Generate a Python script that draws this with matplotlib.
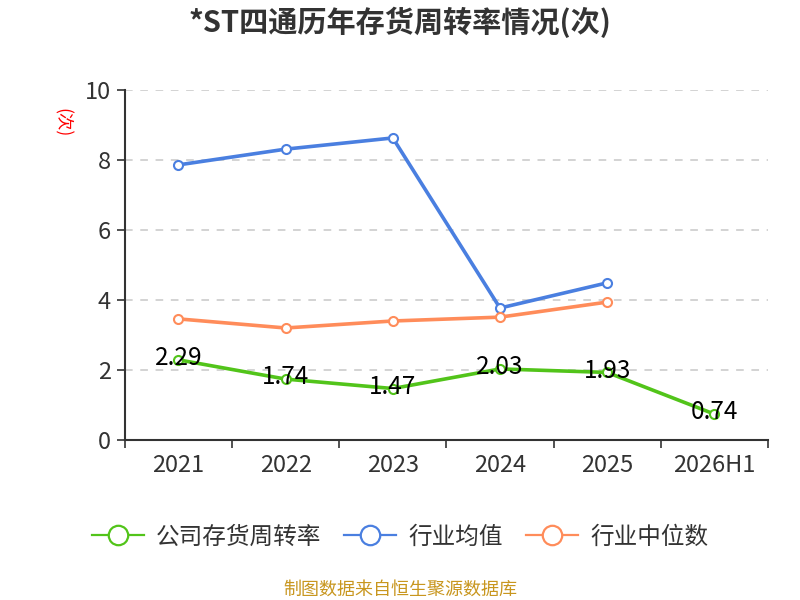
import numpy as np
import matplotlib.pyplot as plt
from matplotlib.lines import Line2D

plt.rcParams["font.family"] = ["Noto Sans CJK SC", "DejaVu Sans"]

years = ["2021", "2022", "2023", "2024", "2025", "2026H1"]
company = [2.29, 1.74, 1.47, 2.03, 1.93, 0.74]
ind_mean = [7.86, 8.31, 8.63, 3.77, 4.49]
ind_median = [3.46, 3.20, 3.40, 3.51, 3.94]
names = ["公司存货周转率", "行业均值", "行业中位数"]

green = "#52c41a"
blue = "#4a7fe0"
orange = "#ff8c5a"

fig = plt.figure(figsize=(8, 6), dpi=100)
ax = fig.add_axes([0.156, 0.2667, 0.804, 0.5833])

x = np.arange(len(years))
lw = 2.6
mk = dict(marker="o", markersize=6.5, markerfacecolor="white", markeredgewidth=1.5)
ax.plot(x[:len(ind_mean)], ind_mean, color=blue, lw=lw, markeredgecolor=blue, **mk, zorder=3)
ax.plot(x[:len(ind_median)], ind_median, color=orange, lw=lw, markeredgecolor=orange, **mk, zorder=3)
ax.plot(x, company, color=green, lw=lw, markeredgecolor=green, **mk, zorder=3)

for xi, v in zip(x, company):
    ax.text(xi, v + 0.05, f"{v:.2f}", ha="center", va="center", fontsize=17.5, color="black", zorder=4)

ax.set_xlim(-0.5, len(years) - 0.5)
ax.set_ylim(0, 10)
ax.set_yticks([0, 2, 4, 6, 8, 10])
ax.set_xticks(x)
ax.set_xticklabels(years)
ax.set_xticks(np.arange(-0.5, len(years)), minor=True)
ax.tick_params(axis="x", which="major", length=0, pad=10, labelsize=17, labelcolor="#333333")
ax.tick_params(axis="x", which="minor", length=6, width=1.2, color="#333333")
ax.tick_params(axis="y", length=6, width=1.2, color="#333333", labelsize=17, labelcolor="#333333", pad=4)
ax.grid(axis="y", linestyle=(0, (5, 5)), color="#c8c8c8", lw=1.1)
ax.set_axisbelow(True)
for s in ["top", "right"]:
    ax.spines[s].set_visible(False)
for s in ["left", "bottom"]:
    ax.spines[s].set_color("#333333")
    ax.spines[s].set_linewidth(1.5)

fig.text(0.078, 0.795, "(次)", color="red", fontsize=12.5, rotation=-90, ha="center", va="center")
fig.text(0.5, 0.962, "*ST四通历年存货周转率情况(次)", ha="center", va="center",
         fontsize=21, fontweight="bold", color="#333333")

handles = [Line2D([], [], color=c, lw=1.6, marker="o", markersize=14, markerfacecolor="white",
                  markeredgecolor=c, markeredgewidth=1.6) for c in (green, blue, orange)]
fig.legend(handles, names, loc="center", bbox_to_anchor=(0.5, 0.105),
           ncol=3, frameon=False, fontsize=17, handlelength=2.2, columnspacing=1.0,
           handletextpad=0.5, labelcolor="#333333")

fig.text(0.5, 0.017, "制图数据来自恒生聚源数据库", ha="center", va="center", fontsize=13, color="#c8961e")

fig.savefig("out.png")
